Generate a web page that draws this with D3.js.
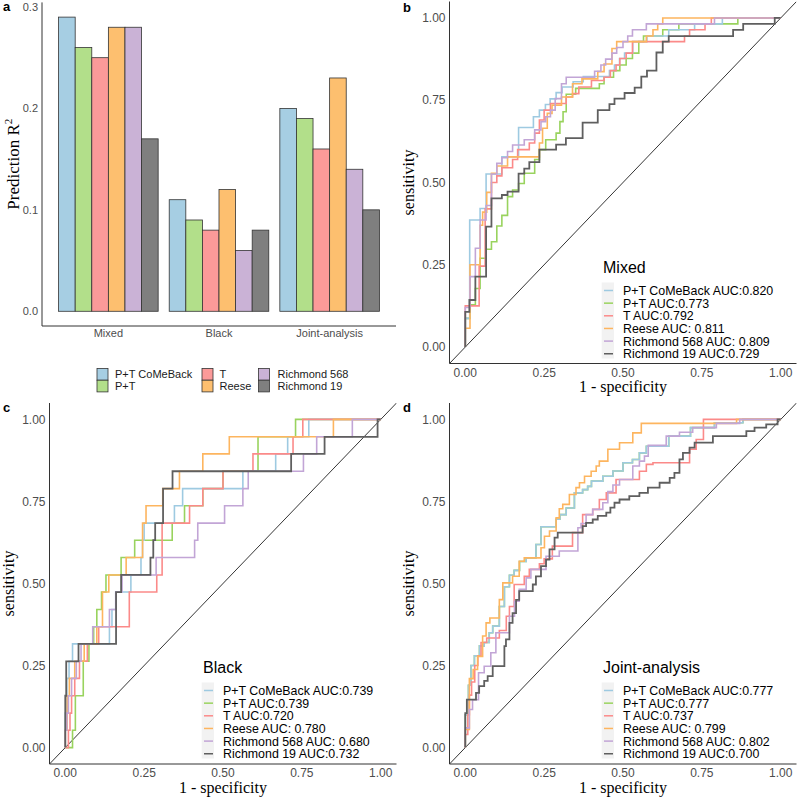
<!DOCTYPE html>
<html><head><meta charset="utf-8">
<script src="https://cdn.jsdelivr.net/npm/d3@7"></script>
<style>body{margin:0;background:#fff} svg{display:block}</style>
</head><body><svg id="c" width="800" height="800"></svg>
<script>
// ---------- data ----------
const groups = ["Mixed","Black","Joint-analysis"];
const models = ["P+T CoMeBack","P+T","T","Reese","Richmond 568","Richmond 19"];
const barColors = ["#a6cee3","#b2df8a","#fb9a99","#fdbf6f","#cab2d6","#7f7f7f"];
const lineColors = ["#9ecae1","#99d35e","#fb8a89","#fdb55f","#c2a5d6","#5f5f5f"];
const r2Mixed = [0.29,0.26,0.25,0.28,0.28,0.17];
const r2Black = [0.11,0.09,0.08,0.12,0.06,0.08];
const r2Joint = [0.20,0.19,0.16,0.23,0.14,0.10];
const r2Ticks = [0,0.1,0.2,0.3];
const rocTicks = [0,0.25,0.5,0.75,1];
const legendMixed = ["P+T CoMeBack AUC:0.820","P+T AUC:0.773","T AUC:0.792","Reese AUC: 0.811","Richmond 568 AUC: 0.809","Richmond 19 AUC:0.729"];
const legendBlack = ["P+T CoMeBack AUC:0.739","P+T AUC:0.739","T AUC:0.720","Reese AUC: 0.780","Richmond 568 AUC: 0.680","Richmond 19 AUC:0.732"];
const legendJoint = ["P+T CoMeBack AUC:0.777","P+T AUC:0.777","T AUC:0.737","Reese AUC: 0.799","Richmond 568 AUC: 0.802","Richmond 19 AUC:0.700"];

// ROC points [1-specificity, sensitivity]; step rises at each x
const mixedPTC = [[0,0],[0,.087],[.014,.386],[.047,.421],[.066,.526],[.116,.578],[.169,.667],[.216,.700],[.235,.720],[.254,.737],[.269,.754],[.288,.773],[.307,.790],[.342,.806],[.374,.822],[.457,.840],[.473,.857],[.489,.877],[.505,.893],[.531,.928],[.576,.945],[.645,.964],[.727,.982],[.815,1],[1,1]];
const mixedPT = [[0,0],[0,.087],[.015,.128],[.032,.178],[.047,.27],[.066,.297],[.083,.32],[.10,.368],[.116,.40],[.134,.457],[.15,.477],[.169,.497],[.187,.528],[.22,.57],[.235,.60],[.255,.63],[.288,.65],[.30,.685],[.31,.715],[.32,.768],[.35,.786],[.425,.80],[.44,.82],[.47,.84],[.49,.857],[.51,.877],[.53,.893],[.55,.928],[.565,.945],[.626,.964],[.677,.982],[.864,1],[1,1]];
const mixedT = [[0,0],[0,.125],[.044,.246],[.063,.42],[.083,.50],[.10,.52],[.116,.545],[.15,.57],[.166,.60],[.203,.62],[.22,.65],[.235,.69],[.25,.72],[.27,.74],[.32,.76],[.34,.77],[.36,.79],[.40,.81],[.44,.82],[.46,.84],[.478,.857],[.49,.877],[.51,.893],[.53,.928],[.695,.945],[.711,.964],[.76,.982],[.78,1],[1,1]];
const mixedReese = [[0,0],[0,.057],[.015,.25],[.047,.37],[.055,.41],[.068,.47],[.083,.528],[.10,.55],[.134,.578],[.235,.62],[.245,.665],[.26,.71],[.275,.735],[.305,.76],[.34,.80],[.37,.815],[.42,.837],[.44,.86],[.465,.907],[.48,.928],[.574,.945],[.595,.964],[.61,.982],[.626,1],[1,1]];
const mixedR568 = [[0,0],[0,.12],[.015,.214],[.032,.30],[.047,.386],[.066,.43],[.083,.526],[.10,.558],[.116,.575],[.134,.594],[.15,.614],[.187,.63],[.22,.66],[.24,.685],[.255,.70],[.27,.72],[.285,.755],[.305,.80],[.32,.82],[.41,.838],[.43,.857],[.445,.875],[.465,.893],[.48,.91],[.50,.928],[.515,.945],[.53,.964],[.574,.982],[.79,1],[1,1]];
const mixedR19 = [[0,0],[0,.107],[.013,.143],[.032,.214],[.066,.366],[.083,.452],[.116,.462],[.134,.472],[.169,.527],[.187,.542],[.203,.562],[.235,.600],[.288,.615],[.319,.635],[.372,.682],[.420,.720],[.457,.738],[.473,.755],[.505,.772],[.537,.788],[.558,.822],[.576,.840],[.606,.895],[.626,.928],[.645,.945],[.849,.964],[.881,.982],[.981,1],[1,1]];

const blackPTC = [[0,0],[0,.105],[.005,.211],[.012,.263],[.023,.316],[.14,.368],[.148,.421],[.16,.474],[.208,.526],[.24,.579],[.245,.632],[.25,.684],[.346,.737],[.372,.789],[.563,.842],[.667,.895],[.705,.947],[.772,1],[1,1]];
const blackPT = [[0,0],[.023,.053],[.032,.158],[.057,.263],[.075,.316],[.09,.368],[.10,.421],[.115,.474],[.129,.526],[.177,.579],[.22,.632],[.339,.684],[.378,.737],[.436,.789],[.50,.842],[.611,.947],[.73,1],[1,1]];
const blackT = [[0,0],[.01,.053],[.015,.105],[.02,.158],[.03,.211],[.045,.263],[.07,.316],[.106,.368],[.203,.474],[.29,.526],[.307,.684],[.394,.737],[.436,.789],[.50,.842],[.595,.895],[.722,.947],[.753,1],[1,1]];
const blackReese = [[0,0],[0,.053],[.006,.158],[.013,.211],[.03,.263],[.06,.316],[.10,.368],[.118,.474],[.138,.526],[.193,.579],[.245,.684],[.256,.737],[.309,.789],[.362,.842],[.436,.895],[.52,.947],[.85,1],[1,1]];
const blackR568 = [[0,0],[0,.053],[.005,.105],[.01,.158],[.02,.211],[.035,.263],[.05,.316],[.087,.368],[.14,.421],[.16,.474],[.18,.526],[.288,.579],[.41,.632],[.42,.684],[.505,.737],[.563,.789],[.58,.842],[.755,.895],[.797,.947],[.91,1],[1,1]];
const blackR19 = [[0,0],[0,.158],[.003,.263],[.042,.316],[.161,.474],[.177,.526],[.27,.579],[.279,.632],[.285,.684],[.31,.789],[.34,.842],[.716,.895],[.822,.947],[.99,1],[1,1]];

const jointPTC = [[0,0],[0,.10],[.01,.19],[.018,.25],[.029,.28],[.045,.31],[.06,.32],[.076,.35],[.087,.37],[.108,.43],[.124,.49],[.14,.525],[.155,.54],[.172,.567],[.193,.578],[.224,.619],[.24,.673],[.288,.696],[.30,.71],[.32,.73],[.346,.776],[.372,.786],[.388,.796],[.40,.812],[.436,.827],[.468,.843],[.50,.868],[.53,.878],[.552,.898],[.574,.918],[.645,.949],[.714,.975],[.79,.99],[.88,1],[1,1]];
const jointPT = [[0,0],[0,.10],[.01,.19],[.018,.25],[.029,.28],[.045,.31],[.06,.32],[.076,.35],[.087,.37],[.108,.43],[.124,.49],[.14,.525],[.155,.54],[.172,.567],[.193,.578],[.224,.619],[.24,.673],[.288,.696],[.30,.71],[.32,.73],[.346,.776],[.372,.786],[.388,.796],[.40,.812],[.436,.827],[.468,.843],[.50,.868],[.53,.878],[.552,.898],[.574,.918],[.645,.949],[.714,.975],[.79,.99],[.88,1],[1,1]];
const jointT = [[0,0],[0,.04],[.008,.10],[.013,.16],[.02,.20],[.03,.25],[.04,.28],[.05,.32],[.068,.334],[.108,.357],[.13,.40],[.14,.43],[.155,.497],[.187,.522],[.203,.543],[.235,.56],[.25,.575],[.276,.614],[.34,.655],[.372,.71],[.404,.726],[.425,.756],[.447,.776],[.478,.817],[.552,.842],[.574,.863],[.595,.868],[.711,.909],[.732,.939],[.755,1],[1,1]];
const jointReese = [[0,0],[0,.055],[.013,.21],[.025,.238],[.039,.278],[.055,.34],[.066,.38],[.078,.395],[.108,.451],[.119,.502],[.15,.522],[.171,.568],[.187,.578],[.24,.609],[.251,.644],[.267,.66],[.288,.70],[.298,.728],[.309,.741],[.33,.771],[.351,.792],[.362,.807],[.378,.827],[.399,.842],[.415,.858],[.425,.873],[.452,.909],[.489,.929],[.531,.959],[.558,.988],[.86,1],[1,1]];
const jointR568 = [[0,0],[0,.06],[.013,.116],[.023,.146],[.042,.228],[.06,.248],[.081,.289],[.097,.35],[.14,.40],[.156,.446],[.171,.482],[.193,.517],[.208,.543],[.256,.583],[.298,.599],[.357,.67],[.367,.683],[.383,.71],[.404,.726],[.436,.746],[.452,.78],[.468,.80],[.489,.817],[.531,.858],[.552,.873],[.568,.888],[.58,.921],[.637,.949],[.679,.961],[.721,.975],[.796,.988],[.87,1],[1,1]];
const jointR19 = [[0,0],[0,.105],[.005,.146],[.034,.167],[.044,.187],[.06,.203],[.071,.218],[.087,.248],[.124,.309],[.129,.33],[.14,.38],[.15,.41],[.161,.45],[.171,.477],[.214,.497],[.224,.522],[.24,.553],[.256,.573],[.267,.604],[.283,.64],[.293,.655],[.372,.675],[.383,.685],[.404,.695],[.42,.706],[.447,.716],[.46,.731],[.473,.746],[.489,.756],[.52,.766],[.552,.776],[.579,.792],[.616,.807],[.648,.822],[.663,.837],[.679,.878],[.69,.898],[.711,.914],[.727,.929],[.785,.949],[.891,.964],[.917,.975],[.954,.985],[.99,1],[1,1]];

// ---------- drawing ----------
const svg = d3.select("#c");
const SANS = "'Liberation Sans', Arial, Helvetica, sans-serif";
const SERIF = "'Liberation Serif', 'Times New Roman', serif";
const AX = "#333";
const TICK = "#4d4d4d";

function panelLabel(t, x, y){
  svg.append("text").attr("x",x).attr("y",y).text(t)
    .attr("font-family",SANS).attr("font-weight","bold").attr("font-size",13).attr("fill","#000");
}

// ---- panel a: bar chart ----
(function(){
  const r2 = [r2Mixed, r2Black, r2Joint];
  const x = d3.scaleBand().domain(groups).range([42,396]).paddingInner(0.1).paddingOuter(0.15);
  const xs = d3.scaleBand().domain(models).range([0, x.bandwidth()]).padding(0);
  const y = d3.scaleLinear().domain([-0.0145, 0.3045]).range([326, 2.4]);
  const g = svg.append("g");
  groups.forEach((gr, gi) => {
    g.selectAll(null).data(models).enter().append("rect")
      .attr("x", m => x(gr) + xs(m))
      .attr("width", xs.bandwidth())
      .attr("y", (m,i) => y(r2[gi][i]))
      .attr("height", (m,i) => y(0) - y(r2[gi][i]))
      .attr("fill", (m,i) => barColors[i])
      .attr("stroke", "#333").attr("stroke-width", 0.8);
  });
  g.append("line").attr("x1",42).attr("x2",42).attr("y1",y.range()[1]).attr("y2",326).attr("stroke",AX).attr("stroke-width",1);
  g.append("line").attr("x1",42).attr("x2",396).attr("y1",326).attr("y2",326).attr("stroke",AX).attr("stroke-width",1);
  g.selectAll(null).data(r2Ticks).enter().append("text")
    .attr("x",38).attr("y",d=>y(d)).attr("dy","0.35em").attr("text-anchor","end")
    .attr("font-family",SANS).attr("font-size",11).attr("fill",TICK).text(d=>d.toFixed(1));
  g.selectAll(null).data(groups).enter().append("text")
    .attr("x",d=>x(d)+x.bandwidth()/2).attr("y",337).attr("text-anchor","middle")
    .attr("font-family",SANS).attr("font-size",11).attr("fill",TICK).text(d=>d);
  const yt = g.append("text").attr("transform","translate(18.5,"+((y.range()[0]+y.range()[1])/2)+") rotate(-90)")
    .attr("text-anchor","middle").attr("font-family",SERIF).attr("font-size",17).attr("fill","#000");
  yt.append("tspan").text("Prediction R");
  yt.append("tspan").attr("font-size",11).attr("dy","-0.55em").text("2");
  // legend
  const colX = [97, 202, 258.5], txtX = [115, 219.5, 277.5];
  const rowY = [368.5, 380.2], baseY = [378.3, 390];
  models.forEach((m,i) => {
    const c = Math.floor(i/2), r = i%2;
    g.append("rect").attr("x",colX[c]).attr("y",rowY[r]).attr("width",11).attr("height",11.7)
      .attr("fill",barColors[i]).attr("stroke","#333").attr("stroke-width",0.8);
    g.append("text").attr("x",txtX[c]).attr("y",baseY[r]).attr("font-family",SANS).attr("font-size",11)
      .attr("fill","#1a1a1a").text(m);
  });
  panelLabel("a", 3, 11);
})();

// ---- ROC panels ----
function rocPanel(opts){
  const {ox, oy, x0, x1, y0, y1, title, series, legend, label, id} = opts;
  const x = d3.scaleLinear().domain([-0.05,1.05]).range([x0,x1]);
  const y = d3.scaleLinear().domain([-0.05,1.05]).range([y0,y1]);
  const g = svg.append("g");
  g.append("clipPath").attr("id",id).append("rect").attr("x",x0).attr("y",y1).attr("width",x1-x0).attr("height",y0-y1);
  const pg = g.append("g").attr("clip-path","url(#"+id+")");
  pg.append("line").attr("x1",x(-0.05)).attr("y1",y(-0.05)).attr("x2",x(1.05)).attr("y2",y(1.05))
    .attr("stroke","#000").attr("stroke-width",0.8);
  const line = d3.line().x(d=>x(d[0])).y(d=>y(d[1])).curve(d3.curveStepAfter);
  const order = [1,0,2,3,4,5];
  order.forEach(i => {
    pg.append("path").attr("d", line(series[i])).attr("fill","none")
      .attr("stroke", lineColors[i]).attr("stroke-width", i===5 ? 1.8 : 1.6);
  });
  g.append("line").attr("x1",x0).attr("x2",x0).attr("y1",y1).attr("y2",y0).attr("stroke",AX).attr("stroke-width",1);
  g.append("line").attr("x1",x0).attr("x2",x1).attr("y1",y0).attr("y2",y0).attr("stroke",AX).attr("stroke-width",1);
  g.selectAll(null).data(rocTicks).enter().append("text")
    .attr("x",x0-4).attr("y",d=>y(d)).attr("dy","0.35em").attr("text-anchor","end")
    .attr("font-family",SANS).attr("font-size",12).attr("fill",TICK).text(d=>d.toFixed(2));
  g.selectAll(null).data(rocTicks).enter().append("text")
    .attr("x",d=>x(d)).attr("y",y0+13).attr("text-anchor","middle")
    .attr("font-family",SANS).attr("font-size",12).attr("fill",TICK).text(d=>d.toFixed(2));
  g.append("text").attr("x",(x0+x1)/2).attr("y",y0+28.5).attr("text-anchor","middle")
    .attr("font-family",SERIF).attr("font-size",16).attr("fill","#000").text("1 - specificity");
  g.append("text").attr("transform","translate("+(ox+13.5)+","+((y0+y1)/2)+") rotate(-90)")
    .attr("text-anchor","middle").attr("font-family",SERIF).attr("font-size",16).attr("fill","#000").text("sensitivity");
  // legend
  const lx = ox + 203, ly = oy + 272.5;
  g.append("text").attr("x",lx).attr("y",ly).attr("font-family",SANS).attr("font-size",16).attr("fill","#000").text(title);
  g.append("rect").attr("x",ox+201.7).attr("y",oy+282.5).attr("width",12.3).attr("height",76).attr("fill","#f2f2f2");
  legend.forEach((t,i) => {
    const by = oy + 295 + i*12.65;
    g.append("line").attr("x1",ox+204).attr("x2",ox+213).attr("y1",by-4.5).attr("y2",by-4.5)
      .attr("stroke",lineColors[i]).attr("stroke-width",1.5);
    g.append("text").attr("x",ox+223).attr("y",by).attr("font-family",SANS).attr("font-size",12.4)
      .attr("fill","#000").text(t);
  });
  panelLabel(label, ox+3, oy+11.5);
}

rocPanel({ox:400, oy:0, x0:449.5, x1:796.5, y0:363.5, y1:1.5, title:"Mixed", id:"clipb",
  series:[mixedPTC,mixedPT,mixedT,mixedReese,mixedR568,mixedR19], legend:legendMixed, label:"b"});
rocPanel({ox:0, oy:400, x0:49.5, x1:396.5, y0:764, y1:403, title:"Black", id:"clipc",
  series:[blackPTC,blackPT,blackT,blackReese,blackR568,blackR19], legend:legendBlack, label:"c"});
rocPanel({ox:400, oy:400, x0:449.5, x1:796.5, y0:764, y1:403, title:"Joint-analysis", id:"clipd",
  series:[jointPTC,jointPT,jointT,jointReese,jointR568,jointR19], legend:legendJoint, label:"d"});
</script>
</body></html>
